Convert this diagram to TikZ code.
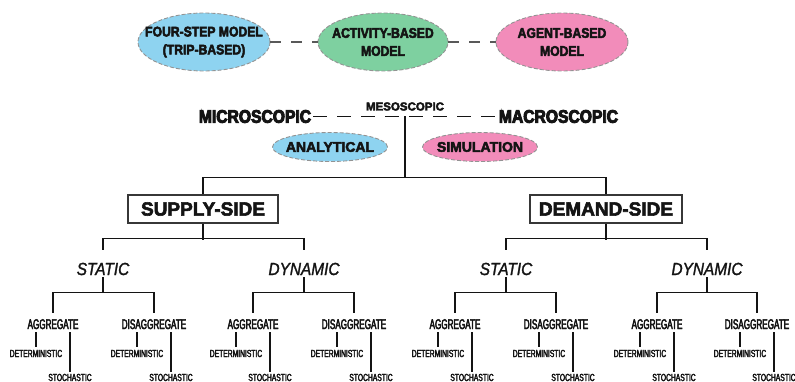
\documentclass[tikz,border=0pt]{standalone}
\usepackage{fontspec}
\usetikzlibrary{shapes.geometric}
\setmainfont{Liberation Sans}
\newfontfamily\topf[FakeStretch=0.87,FakeBold=3.5]{Liberation Sans Bold}
\newfontfamily\midf[FakeBold=3.5]{Liberation Sans Bold}
\newfontfamily\heavyf[FakeStretch=0.86,FakeBold=5]{Liberation Sans Bold}
\newfontfamily\boldf[FakeBold=3]{Liberation Sans Bold}
\newfontfamily\itf[FakeStretch=0.88,FakeBold=1.5]{Liberation Sans Italic}
\newfontfamily\condf[FakeStretch=0.58,FakeBold=3]{Liberation Sans}
\newfontfamily\condsf[FakeStretch=0.66,FakeBold=3]{Liberation Sans}
\definecolor{cblue}{RGB}{142,211,240}
\definecolor{cgreen}{RGB}{126,208,160}
\definecolor{cpink}{RGB}{242,140,186}
\definecolor{ink}{RGB}{20,20,20}
\begin{document}
\begin{tikzpicture}[x=1pt,y=-1pt,
  ovalbox/.style={ellipse, draw=gray!85, dash pattern=on 4pt off 2pt, line width=0.9pt, inner ysep=0pt, align=center, text=ink},
  toplab/.style={font=\topf\fontsize{14}{18}\selectfont, inner xsep=-13pt},
  midlab/.style={font=\midf\fontsize{14}{17}\selectfont, inner xsep=-6pt},
  link/.style={draw=gray!70!black, line width=1.1pt, dash pattern=on 11pt off 10pt},
  scalelab/.style={font=\heavyf\fontsize{18.2}{20}\selectfont, inner sep=2pt, text=ink},
  sidebox/.style={draw=ink!85, line width=1.2pt, minimum width=150pt, minimum height=28pt, inner sep=0pt, font=\boldf\fontsize{19}{20}\selectfont, text=ink},
  tree/.style={draw=ink, line width=1.1pt},
  sdlab/.style={font=\itf\fontsize{17.5}{18}\selectfont, anchor=base, inner sep=0pt, text height=25pt, text depth=2pt, text=ink},
  agglab/.style={font=\condf\fontsize{14}{14}\selectfont, anchor=base, inner sep=0pt, text height=16pt, text depth=3pt, text=ink},
  detlab/.style={font=\condsf\fontsize{10.2}{11}\selectfont, anchor=base, inner sep=0pt, text height=10pt, text depth=0pt, text=ink},
  stolab/.style={font=\condsf\fontsize{10.2}{11}\selectfont, anchor=base, inner sep=0pt, text height=9pt, text depth=0pt, text=ink}
]
\useasboundingbox (0,0) rectangle (795,382);

% top models
\node[ovalbox, toplab, fill=cblue, minimum width=132pt, minimum height=58pt] (fs) at (204,42) {FOUR-STEP MODEL\\(TRIP-BASED)};
\node[ovalbox, toplab, fill=cgreen, minimum width=130pt, minimum height=58pt] (ab) at (383,42) {ACTIVITY-BASED\\MODEL};
\node[ovalbox, toplab, fill=cpink, minimum width=132pt, minimum height=58pt] (ag) at (562,42) {AGENT-BASED\\MODEL};
\draw[link] (fs.east) -- (ab.west);
\draw[link] (ab.east) -- (ag.west);

% scale
\node[scalelab] (micro) at (255,116.5) {MICROSCOPIC};
\node[scalelab] (macro) at (558.5,116.5) {MACROSCOPIC};
\node[font=\midf\fontsize{11.5}{12}\selectfont, inner sep=1pt, text=ink] (meso) at (405,106.5) {MESOSCOPIC};
\draw[tree, dash pattern=on 14pt off 10pt] (micro.east) -- (macro.west);
\coordinate (mj) at (meso.south |- micro.east);

\node[ovalbox, midlab, fill=cblue, minimum width=115pt, minimum height=29pt] (an) at (330,147) {ANALYTICAL};
\node[ovalbox, midlab, fill=cpink, minimum width=115pt, minimum height=29pt] (si) at (480,147) {SIMULATION};

% sides
\node[sidebox] (sup) at (203,209) {SUPPLY-SIDE};
\node[sidebox, minimum width=152pt] (dem) at (606,209) {DEMAND-SIDE};
\draw[tree] (sup.north) -- ++(0,-17) -| (dem.north);
\draw[tree] (mj) -- (mj |- 0,178);

% static / dynamic
\node[sdlab] (st1) at (103,275) {STATIC};
\node[sdlab] (dy1) at (304,275) {DYNAMIC};
\node[sdlab] (st2) at (506,275) {STATIC};
\node[sdlab] (dy2) at (707,275) {DYNAMIC};
\draw[tree] (sup.south) -- ++(0,16);
\draw[tree] (st1.north) -- ++(0,-11) -| (dy1.north);
\draw[tree] (dem.south) -- ++(0,16);
\draw[tree] (st2.north) -- ++(0,-11) -| (dy2.north);

% aggregate / disaggregate
\foreach \n/\x/\lab in {a1/53/AGGREGATE, g1/154/DISAGGREGATE, a2/253/AGGREGATE, g2/354/DISAGGREGATE, a3/455/AGGREGATE, g3/556/DISAGGREGATE, a4/657/AGGREGATE, g4/757/DISAGGREGATE} {
  \node[agglab] (\n) at (\x,329) {\lab};
  \node[detlab] (\n-d) at ({\x-17},357) {DETERMINISTIC};
  \node[stolab] (\n-s) at ({\x+17},381) {STOCHASTIC};
  \draw[tree] ([xshift=-17pt]\n.south) -- (\n-d.north);
  \draw[tree] ([xshift=17pt]\n.south) -- (\n-s.north);
}
\draw[tree] (st1.south) -- ++(0,16);
\draw[tree] (a1.north) -- ++(0,-20) -| (g1.north);
\draw[tree] (dy1.south) -- ++(0,16);
\draw[tree] (a2.north) -- ++(0,-20) -| (g2.north);
\draw[tree] (st2.south) -- ++(0,16);
\draw[tree] (a3.north) -- ++(0,-20) -| (g3.north);
\draw[tree] (dy2.south) -- ++(0,16);
\draw[tree] (a4.north) -- ++(0,-20) -| (g4.north);
\end{tikzpicture}
\end{document}
